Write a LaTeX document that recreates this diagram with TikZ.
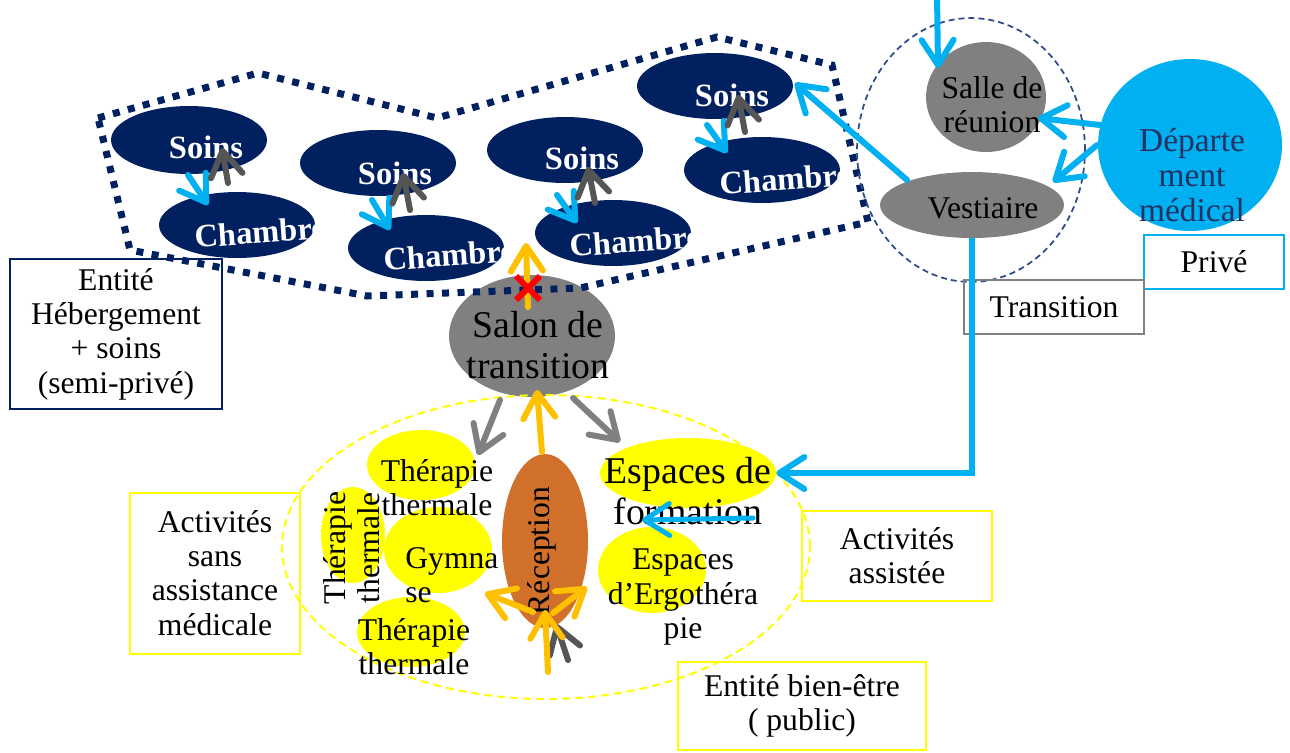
\documentclass[tikz,border=0pt]{standalone}
\usepackage{fontspec}
\setmainfont{Liberation Serif}
\usetikzlibrary{shapes.geometric,shapes.misc,arrows.meta}
\definecolor{navy}{RGB}{0,32,96}
\definecolor{cyanb}{RGB}{0,176,240}
\definecolor{grayf}{RGB}{128,128,128}
\definecolor{dgray}{RGB}{85,85,85}
\definecolor{gold}{RGB}{255,192,0}
\definecolor{rust}{RGB}{208,112,42}
\definecolor{dblue}{RGB}{47,75,140}
\definecolor{deptxt}{RGB}{38,50,100}
\definecolor{yel}{RGB}{255,255,0}
\newcommand{\fN}{\fontsize{18}{19.5}\selectfont}
\newcommand{\fL}{\fontsize{21.5}{23.5}\selectfont}
\newcommand{\fB}{\fontsize{18.5}{20}\selectfont\bfseries}
\begin{document}
\begin{tikzpicture}[x=0.02cm,y=-0.02cm,
  ell/.style 2 args={ellipse, minimum width=#1*0.04cm, minimum height=#2*0.04cm, inner sep=0pt},
  lbl/.style={rectangle, draw, line width=0.03cm, inner sep=0pt, align=center, font=\fN},
  ar/.style={line width=0.12cm, line cap=round, -{Straight Barb[length=0.5cm,width=0.64cm,round]}},
  wt/.style={font=\fB, text=white, inner sep=0pt},
  tx/.style={font=\fN, align=center, inner sep=0pt},
  dotpoly/.style={draw=navy, line width=0.14cm, dash pattern=on 0.14cm off 0.17cm},
]
\useasboundingbox (0,0) rectangle (1290,752);

% Salon (under dotted line)
\node[ell={83}{61}, fill=grayf] (salon) at (532,336) {};

% dotted group outline
\draw[dotpoly] (98,118) -- (258,73) -- (437,118) -- (717,37) -- (832,65) -- (868,222) -- (580,288) -- (367,296) -- (130,250) -- cycle;

% Soins / Chambre
\node[ell={78}{34}, fill=navy] (s1) at (189,140) {};
\node[ell={78}{33}, fill=navy] (c1) at (237,225) {};
\node[ell={78}{33}, fill=navy] (s2) at (378,163) {};
\node[ell={78}{33}, fill=navy] (c2) at (426,248) {};
\node[ell={78}{33}, fill=navy] (s3) at (565,150) {};
\node[ell={78}{33}, fill=navy] (c3) at (613,233) {};
\node[ell={78}{33}, fill=navy] (s4) at (715,86) {};
\node[ell={78}{33}, fill=navy] (c4) at (762,170) {};
\node[wt] (ts1) at (206,147) {Soins};
\node[wt, rotate=4] (tc1) at (260,232) {Chambre};
\node[wt] (ts2) at (395,173) {Soins};
\node[wt, rotate=4] (tc2) at (449,255) {Chambre};
\node[wt] (ts3) at (582,158) {Soins};
\node[wt, rotate=4] (tc3) at (635,241) {Chambre};
\node[wt] (ts4) at (732,95) {Soins};
\node[wt, rotate=4] (tc4) at (785,179) {Chambre};

% right group
\node[ell={114}{132}, draw=dblue, line width=0.035cm, dash pattern=on 0.12cm off 0.08cm] (rgrp) at (971,150) {};
\node[ell={60}{55}, fill=grayf] (salle) at (986,97) {};
\node[ell={92}{33}, fill=grayf] (vest) at (972,205) {};
\node[ell={92}{86}, fill=cyanb] (dept) at (1190,145) {};
\node[tx] (tsalle) at (992,105) {Salle de\\réunion};
\node[tx] (tvest) at (983,208) {Vestiaire};
\node[tx, text=deptxt, font=\fontsize{19}{20}\selectfont] (tdept) at (1192,175) {Départe\\ment\\médical};

% bien-etre group
\node[ell={54}{35}, fill=yel] (th1) at (421,465) {};
\node[ell={32}{48}, fill=yel] (th2) at (353,535) {};
\node[ell={54}{43}, fill=yel] (gym) at (438,550) {};
\node[ell={54}{35}, fill=yel] (th3) at (411,632) {};
\node[ell={88}{35}, fill=yel] (form) at (688,473) {};
\node[ell={54}{43}, fill=yel] (ergo) at (652,570) {};
\node[ell={43}{87}, fill=rust] (rec) at (545,541) {};
\node[ell={264}{152}, draw=yel, line width=0.04cm, dash pattern=on 0.16cm off 0.1cm] (ygrp) at (546,547) {};

\node[tx, font=\fL] (tsalon) at (538,345) {Salon de\\transition};
\node[tx] (tth1) at (437,488) {Thérapie\\thermale};
\node[tx, rotate=90] (tth2) at (352,548) {Thérapie\\thermale};
\node[tx, align=left, anchor=west] (tgym) at (405,575) {Gymna\\se};
\node[tx] (tth3) at (414,647) {Thérapie\\thermale};
\node[tx, font=\fL] (tform) at (688,491) {Espaces de\\formation};
\node[tx] (tergo) at (683,597) {Espaces\\d’Ergothéra\\pie};
\node[tx, rotate=90] (trec) at (542,551) {Réception};

% labels
\node[lbl, draw=navy, line width=0.04cm, minimum width=4.24cm, minimum height=3cm] (entheb) at (116,334) {Entité\\Hébergement\\+ soins\\(semi-privé)};
\node[lbl, draw=yel, line width=0.04cm, minimum width=3.4cm, minimum height=3.22cm] (actsans) at (215,573) {Activités\\sans\\assistance\\médicale};
\node[lbl, draw=yel, line width=0.04cm, minimum width=3.82cm, minimum height=1.8cm] (actass) at (897,556) {Activités\\assistée};
\node[lbl, draw=yel, line width=0.04cm, minimum width=4.98cm, minimum height=1.76cm] (bien) at (802,706) {Entité bien-être\\( public)};
\node[lbl, draw=cyanb, minimum width=2.8cm, minimum height=1.08cm] (prive) at (1214,262) {Privé};
\node[lbl, draw=grayf, minimum width=3.6cm, minimum height=1.08cm] (trans) at (1054,307) {Transition};

% arrow end points
\coordinate (b1a) at (188,175); \coordinate (b1b) at (208,205);
\coordinate (g1a) at (228,183); \coordinate (g1b) at (222,148);
\coordinate (b2a) at (372,200); \coordinate (b2b) at (390,230);
\coordinate (g2a) at (410,210); \coordinate (g2b) at (403,173);
\coordinate (b3a) at (557,195); \coordinate (b3b) at (577,223);
\coordinate (g3a) at (595,203); \coordinate (g3b) at (588,167);
\coordinate (b4a) at (707,125); \coordinate (b4b) at (727,153);
\coordinate (g4a) at (745,132); \coordinate (g4b) at (738,95);
\coordinate (topin) at (937,-6); \coordinate (salletip) at (938,68);
\coordinate (dA) at (1100,125); \coordinate (sallein) at (1038,118);
\coordinate (dB) at (1097,145); \coordinate (vestin) at (1053,182);
\coordinate (vestout) at (907,180); \coordinate (s4in) at (795,83);
\coordinate (fa) at (753,518); \coordinate (fb) at (642,520);
\coordinate (su1) at (528,307); \coordinate (su2) at (526,243);
\coordinate (gl1) at (500,400); \coordinate (gl2) at (478,455);
\coordinate (gr1) at (573,398); \coordinate (gr2) at (620,442);
\coordinate (ry1) at (542,452); \coordinate (ry2) at (537,390);
\coordinate (bm1) at (548,672); \coordinate (bm2) at (545,610);
\coordinate (bl1) at (533,612); \coordinate (bl2) at (485,593);
\coordinate (br1) at (553,613); \coordinate (br2) at (587,587);
\coordinate (bg1) at (568,660); \coordinate (bg2) at (556,624);

% arrows
\draw[ar, cyanb] (b1a) -- (b1b);
\draw[ar, dgray] (g1a) -- (g1b);
\draw[ar, cyanb] (b2a) -- (b2b);
\draw[ar, dgray] (g2a) -- (g2b);
\draw[ar, cyanb] (b3a) -- (b3b);
\draw[ar, dgray] (g3a) -- (g3b);
\draw[ar, cyanb] (b4a) -- (b4b);
\draw[ar, dgray] (g4a) -- (g4b);
\draw[ar, cyanb] (topin) -- (salletip);
\draw[ar, cyanb] (dA) -- (sallein);
\draw[ar, cyanb] (dB) -- (vestin);
\draw[ar, cyanb] (vestout) -- (s4in);
\draw[ar, cyanb, line cap=butt] (vest.south) |- (form.east);
\draw[ar, cyanb, line width=0.1cm] (fa) -- (fb);
\draw[ar, gold] (su1) -- (su2);
\node[cross out, draw=red, line width=0.12cm, minimum size=0.36cm, inner sep=0pt] (redx) at (528,288) {};
\draw[ar, grayf] (gl1) -- (gl2);
\draw[ar, grayf] (gr1) -- (gr2);
\draw[ar, gold] (ry1) -- (ry2);
\draw[ar, dgray] (bg1) -- (bg2);
\draw[ar, gold] (bm1) -- (bm2);
\draw[ar, gold] (bl1) -- (bl2);
\draw[ar, gold] (br1) -- (br2);
\end{tikzpicture}
\end{document}
